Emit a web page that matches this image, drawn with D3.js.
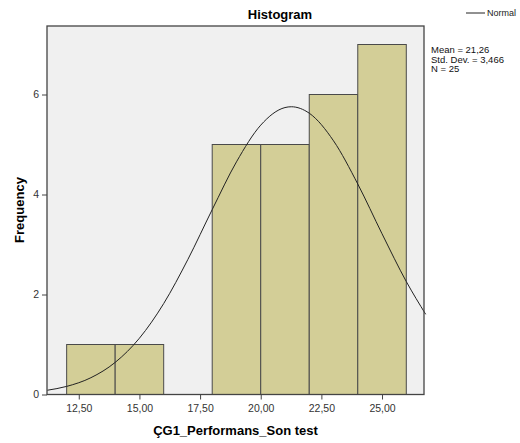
<!DOCTYPE html>
<html>
<head>
<meta charset="utf-8">
<script src="https://cdn.jsdelivr.net/npm/d3@7"></script>
<style>
  body { margin: 0; background: #fff; }
  svg { font-family: "Liberation Sans", Arial, sans-serif; }
</style>
</head>
<body>
<div id="chart"></div>
<script>
// histogram bins (lower edge, upper edge) and counts
var binStart = [12, 14, 18, 20, 22, 24];
var binEnd   = [14, 16, 20, 22, 24, 26];
var counts   = [1, 1, 5, 5, 6, 7];

// normal curve
var curveX = [11.2, 12, 13, 14, 15, 16, 17, 18, 19, 20, 21, 21.26, 22, 23, 24, 25, 26, 26.8];
var curveY = [0.085, 0.162, 0.336, 0.642, 1.126, 1.819, 2.704, 3.698, 4.653, 5.387, 5.739, 5.755, 5.626, 5.074, 4.210, 3.215, 2.259, 1.604];

var xTicks = [12.5, 15, 17.5, 20, 22.5, 25];
var yTicks = [0, 2, 4, 6];
var statLines = ["Mean = 21,26", "Std. Dev. = 3,466", "N = 25"];

var margin = {top: 26, left: 47},
    width = 424 - margin.left,
    height = 394.5 - margin.top;

var svg = d3.select("#chart").append("svg")
    .attr("width", 520)
    .attr("height", 443);

var xScale = d3.scaleLinear().domain([11.19, 26.73]).range([0, width]);
var yScale = d3.scaleLinear().domain([0, 7.37]).range([height, 0]);

var g = svg.append("g")
    .attr("transform", "translate(" + margin.left + "," + margin.top + ")");

// plot background
g.append("rect")
    .attr("width", width).attr("height", height)
    .attr("fill", "#f0f0f0");

// bars
g.selectAll(".bar")
    .data(counts)
    .enter().append("rect")
    .attr("class", "bar")
    .attr("x", function(d, i){ return xScale(binStart[i]); })
    .attr("y", function(d){ return yScale(d); })
    .attr("width", function(d, i){ return xScale(binEnd[i]) - xScale(binStart[i]); })
    .attr("height", function(d){ return height - yScale(d); })
    .attr("fill", "#d3ce97")
    .attr("stroke", "#4a4a4a")
    .attr("stroke-width", 1);

// normal curve
var line = d3.line()
    .x(function(d, i){ return xScale(d); })
    .y(function(d, i){ return yScale(curveY[i]); })
    .curve(d3.curveMonotoneX);

g.append("path")
    .datum(curveX)
    .attr("d", line)
    .attr("fill", "none")
    .attr("stroke", "#222")
    .attr("stroke-width", 1);

// plot border
g.append("rect")
    .attr("width", width).attr("height", height)
    .attr("fill", "none")
    .attr("stroke", "#444")
    .attr("stroke-width", 1.3);

// axes
var xAxis = g.append("g")
    .attr("transform", "translate(0," + height + ")")
    .call(d3.axisBottom(xScale).tickValues(xTicks)
        .tickFormat(function(d){ return d3.format(".2f")(d).replace(".", ","); })
        .tickSize(5).tickSizeOuter(0));

var yAxis = g.append("g")
    .call(d3.axisLeft(yScale).tickValues(yTicks).tickSize(5).tickSizeOuter(0));

[xAxis, yAxis].forEach(function(a){
    a.select(".domain").remove();
    a.selectAll("line").attr("stroke", "#444");
    a.selectAll("text").attr("fill", "#333").style("font-size", "10.5px");
});
xAxis.selectAll("text").attr("dy", "0.95em");

// titles
svg.append("text")
    .attr("x", 280).attr("y", 19)
    .attr("text-anchor", "middle")
    .style("font-size", "13px").style("font-weight", "bold")
    .text("Histogram");

svg.append("text")
    .attr("x", margin.left + width / 2).attr("y", 435)
    .attr("text-anchor", "middle")
    .style("font-size", "13px").style("font-weight", "bold")
    .text("ÇG1_Performans_Son test");

svg.append("text")
    .attr("transform", "translate(24,210) rotate(-90)")
    .attr("text-anchor", "middle")
    .style("font-size", "13px").style("font-weight", "bold")
    .text("Frequency");

// legend
svg.append("line")
    .attr("x1", 466).attr("x2", 485).attr("y1", 13).attr("y2", 13)
    .attr("stroke", "#222");
svg.append("text")
    .attr("x", 487).attr("y", 16)
    .style("font-size", "9px").attr("fill", "#222")
    .text("Normal");

svg.selectAll(".stat")
    .data(statLines)
    .enter().append("text")
    .attr("class", "stat")
    .attr("x", 431)
    .attr("y", function(d, i){ return 53 + i * 9.5; })
    .style("font-size", "9.5px").attr("fill", "#111")
    .text(function(d){ return d; });
</script>
</body>
</html>
